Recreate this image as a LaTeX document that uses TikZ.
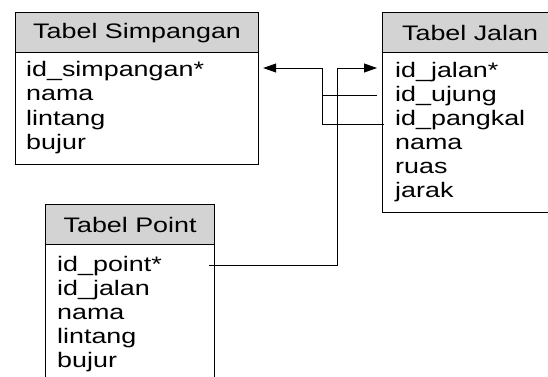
\documentclass[tikz,border=0pt]{standalone}
\usepackage{fontspec}
\setmainfont{Liberation Sans}[FakeStretch=1.28]
\usetikzlibrary{arrows.meta}

\definecolor{headgray}{RGB}{211,211,211}
\tikzset{
	tabhead/.style={draw, line width=1.2pt, fill=headgray, anchor=north west, inner sep=0pt, font=\fontsize{21}{24}\selectfont},
	tabbody/.style={draw, line width=1.2pt, fill=white, anchor=north west, inner sep=0pt},
	field/.style={anchor=base west, inner sep=0pt, font=\fontsize{21}{24}\selectfont},
	link/.style={line width=0.8pt},
	tip/.style={-{Triangle[length=13pt, width=9pt]}}
}

\begin{document}
\begin{tikzpicture}[x=1pt, y=-1pt]
		\useasboundingbox (0,0) rectangle (548,376);
		\clip (0,0) rectangle (548,376);

		% Tabel Simpangan
		\node[tabbody, minimum width=243pt, minimum height=112pt] (sbody) at (15,52) {};
		\node[tabhead, minimum width=243pt, minimum height=40pt] (shead) at (15,12) {Tabel Simpangan};
		\foreach \f [count=\i] in {id\_simpangan*, nama, lintang, bujur}
			\node[field] (s\i) at (26, 52+24.4*\i) {\f};

		% Tabel Jalan
		\node[tabbody, minimum width=175pt, minimum height=160pt] (jbody) at (382,52) {};
		\node[tabhead, minimum width=175pt, minimum height=40pt] (jhead) at (382,12) {Tabel Jalan};
		\foreach \f [count=\i] in {id\_jalan*, id\_ujung, id\_pangkal, nama, ruas, jarak}
			\node[field] (j\i) at (395, 53+24*\i) {\f};

		% Tabel Point
		\node[tabbody, minimum width=169pt, minimum height=150pt] (pbody) at (45,244) {};
		\node[tabhead, minimum width=169pt, minimum height=40pt] (phead) at (45,204) {Tabel Point};
		\foreach \f [count=\i] in {id\_point*, id\_jalan, nama, lintang, bujur}
			\node[field] (p\i) at (57, 247+24*\i) {\f};

		% relasi
		\coordinate (ka) at (322,68);
		\coordinate (kb) at (337,68);
		\draw[link] ([xshift=-18pt]j2.west) -| (ka);
		\draw[link] ([xshift=-11pt, yshift=-5pt]j3.west) -| (ka);
		\draw[link, tip, shorten >=4pt] (ka) -- (ka -| sbody.east);
		\draw[link, tip, shorten >=5pt] ([xshift=-6pt]pbody.east |- p1.west) -| (kb) -- (kb -| jbody.west);

\end{tikzpicture}
\end{document}
